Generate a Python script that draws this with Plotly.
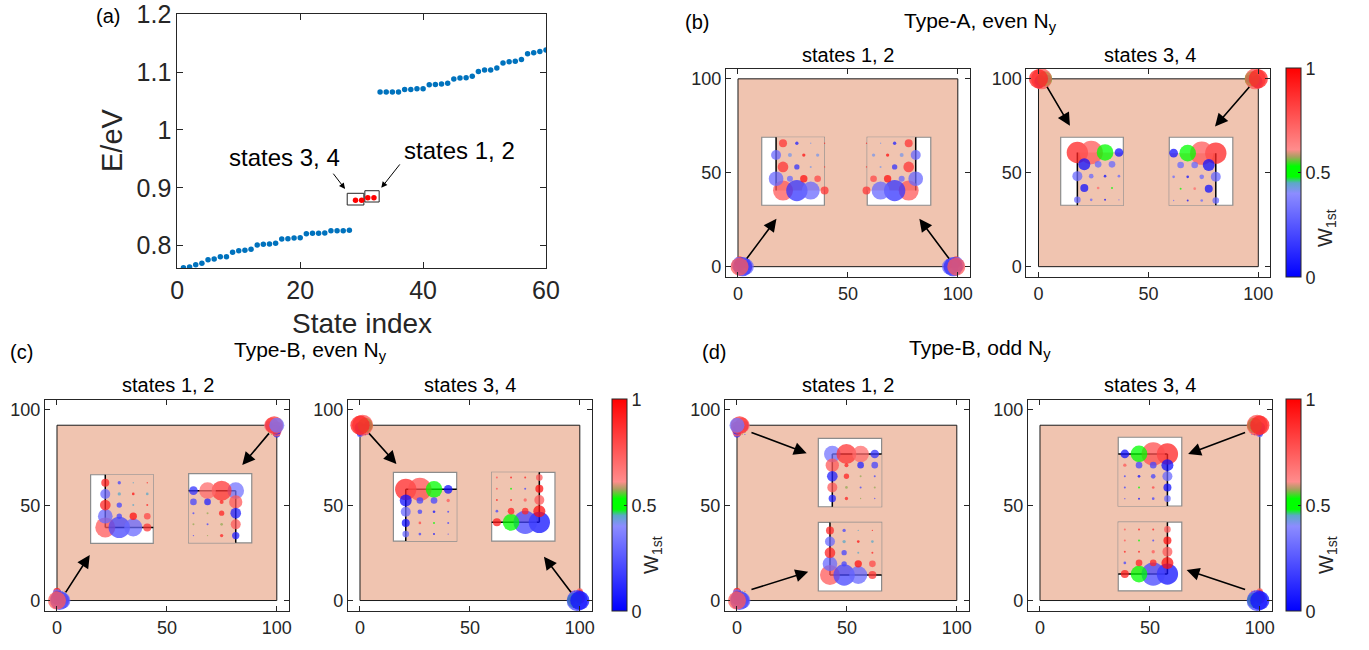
import plotly.graph_objects as go

FIG_W, FIG_H = 1369, 650
FONT = "Liberation Sans, Arial, Helvetica, sans-serif"
INK = "#262626"
SALMON = "#F0C4B0"
W_SCALE = [[0.0, "#0000FF"], [0.40, "#8C8CFF"], [0.45, "#5CA8C8"], [0.48, "#00FF00"],
           [0.53, "#00FF00"], [0.575, "#A8A060"], [0.61, "#FF8C8C"], [1.0, "#FF0000"]]

# ---------------- (a) energy spectrum ----------------
low_idx = list(range(1, 29))
low_E = [0.7621, 0.7632, 0.7672, 0.7695, 0.7759, 0.7770, 0.7811, 0.7811, 0.7885, 0.7914,
         0.7920, 0.7937, 0.8012, 0.8024, 0.8029, 0.8041, 0.8116, 0.8121, 0.8133, 0.8139,
         0.8208, 0.8214, 0.8214, 0.8219, 0.8260, 0.8260, 0.8260, 0.8265]
high_idx = list(range(33, 61))
high_E = [1.0654, 1.0654, 1.0654, 1.0654, 1.0700, 1.0700, 1.0712, 1.0712, 1.0781, 1.0786,
          1.0792, 1.0804, 1.0879, 1.0896, 1.0902, 1.0925, 1.1011, 1.1034, 1.1034, 1.1069,
          1.1155, 1.1178, 1.1184, 1.1218, 1.1316, 1.1333, 1.1356, 1.1379]
c34_idx = [29, 30]
c34_E = [0.8783, 0.8783]
c12_idx = [31, 32]
c12_E = [0.8829, 0.8829]

# ---------------- corner-state site data ----------------
# rows run from the lattice edge row inward, sites from the edge column inward
# Type-A (staggered rows): SHIFT gives the first half-step index of each row
A12_AMP = [[30, 32, 27, 12], [22, 9, 11, 10], [16, 8, 3, 2], [15, 6, 5, 5], [12, 5, 2, 2]]
A12_W = [[0.75, 0.15, 0.30, 0.85], [0.30, 0.30, 0.95, 0.80], [0.85, 0.15, 0.42, 0.90],
         [0.30, 0.42, 0.95, 0.42], [0.85, 0.10, 0.42, 0.90]]
A12_SHIFT = [1, 0, 1, 0, 1]
A34_AMP = [[32, 35, 25, 13], [18, 10, 10, 0], [15, 7, 4, 4], [12, 4, 3, 0], [10, 4, 3, 2]]
A34_W = [[0.90, 0.75, 0.50, 0.05], [0.05, 0.30, 0.30, 0.0], [0.30, 0.30, 0.05, 0.30],
         [0.05, 0.70, 0.50, 0.0], [0.30, 0.30, 0.05, 0.30]]
A34_SHIFT = [0, 1, 0, 1, 0]

# Type-B (square lattice)
B12P_AMP = [[30, 32, 27, 12], [22, 8, 11, 10], [16, 8, 3, 3], [15, 5, 4, 4], [12, 5, 2, 2]]
B12P_W = [[0.75, 0.20, 0.30, 0.85], [0.30, 0.20, 0.95, 0.80], [0.90, 0.20, 0.45, 0.90],
          [0.30, 0.45, 0.95, 0.45], [0.90, 0.20, 0.45, 0.90]]
B12Q_AMP = [[25, 30, 25, 13], [20, 6, 10, 10], [16, 8, 3, 3], [15, 4, 3, 3], [11, 5, 2, 2]]
B12Q_W = [[0.33, 0.85, 0.70, 0.15], [0.75, 0.90, 0.10, 0.20], [0.10, 0.90, 0.57, 0.20],
          [0.75, 0.57, 0.20, 0.57], [0.10, 0.90, 0.57, 0.20]]
B34P_AMP = [[32, 35, 25, 13], [18, 10, 10, 5], [15, 7, 4, 3], [12, 4, 3, 3], [10, 4, 3, 2]]
B34P_W = [[0.90, 0.78, 0.50, 0.05], [0.05, 0.20, 0.20, 0.75], [0.30, 0.20, 0.05, 0.20],
          [0.05, 0.80, 0.50, 0.20], [0.30, 0.20, 0.05, 0.20]]
B34Q_AMP = [[32, 35, 25, 12], [18, 10, 10, 4], [15, 5, 3, 3], [12, 3, 3, 3], [10, 3, 3, 3]]
B34Q_W = [[0.05, 0.20, 0.50, 0.92], [0.95, 0.90, 0.90, 0.20], [0.75, 0.75, 0.90, 0.90],
          [0.95, 0.20, 0.50, 0.75], [0.75, 0.90, 0.90, 0.75]]

PATTERNS = {
    "A12": (A12_AMP, A12_W, A12_SHIFT),
    "A34": (A34_AMP, A34_W, A34_SHIFT),
    "B12P": (B12P_AMP, B12P_W, None),
    "B12Q": (B12Q_AMP, B12Q_W, None),
    "B34P": (B34P_AMP, B34P_W, None),
    "B34Q": (B34Q_AMP, B34Q_W, None),
}

NY_A, NY_B = 100, 92          # lattice heights (x runs 0..100)
TICKS_XY = [0, 50, 100]


def px(x):
    return x / FIG_W


def py(y):
    return 1 - y / FIG_H


# subplot layout: frame span in pixels, lattice, corner states, insets, arrows
SUBPLOTS = [
    dict(n=2, xs=(725.9, 969.9), ys=(68.5, 277), ny=NY_A,
         corners=[(0, 0, 1, 1, "A12"), (100, 0, -1, 1, "A12")],
         insets=[dict(box=(10.8, 39.3, 32.7, 68.9), c=(0.229, 0.216), d=(1, 1), p="A12"),
                 dict(box=(58.8, 87.7, 32.7, 68.9), c=(0.763, 0.216), d=(-1, 1), p="A12")],
         arrows=[((3.5, 3.5), (17.5, 25.5)), ((96.5, 3.5), (82.5, 25.5))]),
    dict(n=3, xs=(1026.4, 1270.4), ys=(68.5, 277), ny=NY_A,
         corners=[(0, 100, 1, -1, "A34"), (100, 100, -1, -1, "A34")],
         insets=[dict(box=(10.1, 38.6, 32.7, 68.9), c=(0.266, 0.776), d=(1, -1), p="A34"),
                 dict(box=(59.5, 88.4, 32.7, 68.9), c=(0.732, 0.766), d=(-1, -1), p="A34")],
         arrows=[((3.5, 96.5), (14.3, 75.0)), ((96.5, 96.5), (80.3, 74.6))]),
    dict(n=4, xs=(44.9, 288.9), ys=(399.5, 611), ny=NY_B,
         corners=[(0, 0, 1, 1, "B12P"), (100, NY_B, -1, -1, "B12Q")],
         insets=[dict(box=(15.3, 43.8, 30.0, 66.0), c=(0.234, 0.233), d=(1, 1), p="B12P"),
                 dict(box=(59.9, 88.6, 30.3, 66.6), c=(0.746, 0.754), d=(-1, -1), p="B12Q")],
         arrows=[((3.5, 3.5), (14.9, 23.9)), ((97, 88.5), (84.3, 71.1))]),
    dict(n=5, xs=(347.9, 591.9), ys=(399.5, 611), ny=NY_B,
         corners=[(0, NY_B, 1, -1, "B34P"), (100, 0, -1, 1, "B34Q")],
         insets=[dict(box=(15.2, 44.0, 31.2, 67.3), c=(0.195, 0.752), d=(1, -1), p="B34P"),
                 dict(box=(59.9, 88.7, 31.2, 67.3), c=(0.753, 0.272), d=(-1, 1), p="B34Q")],
         arrows=[((3.5, 88.5), (16.6, 71.7)), ((96.5, 3.5), (83.7, 23.0))]),
    dict(n=6, xs=(724.9, 968.9), ys=(399.5, 611), ny=NY_B,
         corners=[(0, NY_B, 1, -1, "B12Q"), (0, 0, 1, 1, "B12P")],
         insets=[dict(box=(37.0, 65.8, 49.2, 85.1), c=(0.221, 0.771), d=(1, -1), p="B12Q"),
                 dict(box=(37.0, 65.8, 5.0, 41.0), c=(0.184, 0.233), d=(1, 1), p="B12P")],
         arrows=[((5.9, 88.5), (31.7, 77.3)), ((5.9, 5.5), (32.4, 15.1))]),
    dict(n=7, xs=(1027.9, 1271.9), ys=(399.5, 611), ny=NY_B,
         corners=[(100, NY_B, -1, -1, "B34P"), (100, 0, -1, 1, "B34Q")],
         insets=[dict(box=(35.6, 64.5, 49.6, 85.7), c=(0.774, 0.757), d=(-1, -1), p="B34P"),
                 dict(box=(35.6, 64.5, 5.1, 41.1), c=(0.774, 0.244), d=(-1, 1), p="B34Q")],
         arrows=[((94, 88.5), (67.4, 76.9)), ((94, 5.5), (66.7, 16.0))]),
]

COLORBARS = {3: (1286, 68.5, 277), 5: (612, 399.5, 611), 7: (1286, 399.5, 611)}


def sites(pattern, origin, direction, step):
    amp, w, shift = PATTERNS[pattern]
    ox, oy = origin
    sx, sy = direction
    hx, hy = step
    xs, ys, ss, cs = [], [], [], []
    for m, (arow, wrow) in enumerate(zip(amp, w)):
        for j, (a, c) in enumerate(zip(arow, wrow)):
            if a <= 0:
                continue
            k = shift[m] + 2 * j if shift else j
            xs.append(ox + sx * k * hx)
            ys.append(oy + sy * m * hy)
            ss.append(a)
            cs.append(c)
    return xs, ys, ss, cs


def label(text, x, y, size, color="black", angle=0):
    return dict(x=px(x), y=py(y), xref="paper", yref="paper", text=text, showarrow=False,
                xanchor="center", yanchor="middle", textangle=angle,
                font=dict(size=size, color=color, family=FONT))


fig = go.Figure()
shapes, annotations = [], []
layout_axes = {}

# ---------------- panel (a) ----------------
fig.add_trace(go.Scatter(x=low_idx, y=low_E, mode="markers", marker=dict(size=5.5, color="#0072BD"),
                         xaxis="x", yaxis="y"))
fig.add_trace(go.Scatter(x=high_idx, y=high_E, mode="markers", marker=dict(size=5.5, color="#0072BD"),
                         xaxis="x", yaxis="y"))
fig.add_trace(go.Scatter(x=c34_idx + c12_idx, y=c34_E + c12_E, mode="markers",
                         marker=dict(size=5.5, color="#FF0000"), xaxis="x", yaxis="y"))
layout_axes["xaxis"] = dict(domain=[px(177.3), px(546)], range=[0, 60], tickvals=[0, 20, 40, 60],
                            anchor="y")
layout_axes["yaxis"] = dict(domain=[py(268), py(14)], range=[0.7615, 1.2002],
                            tickvals=[0.8, 0.9, 1.0, 1.1, 1.2],
                            ticktext=["0.8", "0.9", "1", "1.1", "1.2"], anchor="x")
for ax in ("xaxis", "yaxis"):
    layout_axes[ax].update(showline=True, mirror="ticks", linecolor=INK, linewidth=1, ticks="inside",
                           ticklen=6, tickcolor=INK, showgrid=False, zeroline=False,
                           automargin=False, ticklabeloverflow="allow",
                           tickfont=dict(size=25, color=INK, family=FONT))
for x0, x1, y0, y1 in [(27.65, 30.36, 0.8703, 0.8905), (30.52, 32.85, 0.8755, 0.8950)]:
    shapes.append(dict(type="rect", xref="x", yref="y", x0=x0, x1=x1, y0=y0, y1=y1,
                       line=dict(color=INK, width=1), layer="below"))
annotations += [
    dict(x=17.5, y=0.9515, xref="x", yref="y", text="states 3, 4", showarrow=False,
         xanchor="center", yanchor="middle", font=dict(size=24, color="black", family=FONT)),
    dict(x=46.0, y=0.965, xref="x", yref="y", text="states 1, 2", showarrow=False,
         xanchor="center", yanchor="middle", font=dict(size=24, color="black", family=FONT)),
    dict(x=27.3, y=0.898, ax=25.2, ay=0.927, xref="x", yref="y", axref="x", ayref="y", text="",
         showarrow=True, arrowhead=2, arrowsize=1.2, arrowwidth=1, arrowcolor="black"),
    dict(x=33.2, y=0.900, ax=36.4, ay=0.943, xref="x", yref="y", axref="x", ayref="y", text="",
         showarrow=True, arrowhead=2, arrowsize=1.2, arrowwidth=1, arrowcolor="black"),
    label("State index", 362, 323, 28, INK),
    label("E/eV", 112, 140, 29, INK, -90),
]

# ---------------- corner-state panels ----------------
for sp in SUBPLOTS:
    n = sp["n"]
    xr, yr = f"x{n}", f"y{n}"
    layout_axes[f"xaxis{n}"] = dict(domain=[px(sp["xs"][0]), px(sp["xs"][1])], range=[-5.5, 105.5],
                                    anchor=yr)
    layout_axes[f"yaxis{n}"] = dict(domain=[py(sp["ys"][1]), py(sp["ys"][0])], range=[-5.5, 105.5],
                                    anchor=xr)
    for ax in (f"xaxis{n}", f"yaxis{n}"):
        layout_axes[ax].update(tickvals=TICKS_XY, showline=True, mirror="ticks", linecolor=INK,
                               linewidth=1, ticks="inside", ticklen=5, tickcolor=INK, showgrid=False,
                               zeroline=False, automargin=False,
                               tickfont=dict(size=18, color=INK, family=FONT))

    # lattice body
    shapes.append(dict(type="rect", xref=xr, yref=yr, x0=0, x1=100, y0=0, y1=sp["ny"],
                       fillcolor=SALMON, line=dict(color="#1a1a1a", width=1), layer="below"))

    # localized corner states on the full lattice (edge sites drawn last, on top)
    for cx, cy, sx, sy, pat in sp["corners"]:
        step = (0.7, 0.9) if pat.startswith("A") else (1.2, 1.2)
        xs, ys, ss, cs = sites(pat, (cx, cy), (sx, sy), step)
        fig.add_trace(go.Scatter(x=xs[::-1], y=ys[::-1], mode="markers", xaxis=xr, yaxis=yr,
                                 marker=dict(size=[s * 0.6 for s in ss[::-1]], color=cs[::-1],
                                             colorscale=W_SCALE, cmin=0, cmax=1, opacity=0.75,
                                             line=dict(width=0))))

    # zoomed insets around the corners
    for ii, ins in enumerate(sp["insets"]):
        bx0, bx1, by0, by1 = ins["box"]
        bw, bh = bx1 - bx0, by1 - by0
        uc, vc = ins["c"]
        sx, sy = ins["d"]
        ox, oy = bx0 + uc * bw, by0 + vc * bh
        type_a = ins["p"].startswith("A")
        shapes.append(dict(type="rect", xref=xr, yref=yr, x0=bx0, x1=bx1, y0=by0, y1=by1,
                           fillcolor="white", line=dict(color="#8c8c8c", width=1.2), layer="below"))
        ex = bx1 if sx > 0 else bx0
        ey = by1 if sy > 0 else by0
        shapes.append(dict(type="rect", xref=xr, yref=yr, x0=ox, x1=ex, y0=oy, y1=ey,
                           fillcolor=SALMON, line=dict(width=0), layer="below"))
        shapes.append(dict(type="line", xref=xr, yref=yr, x0=ox, x1=ox, y0=oy, y1=ey,
                           line=dict(color="black", width=1.5), layer="below"))
        if not type_a:
            shapes.append(dict(type="line", xref=xr, yref=yr, x0=ox, x1=ex, y0=oy, y1=oy,
                               line=dict(color="black", width=1.5), layer="below"))
        step = (0.1106 * bw, 0.174 * bh) if type_a else (0.2234 * bw, 0.1626 * bh)
        xs, ys, ss, cs = sites(ins["p"], (ox, oy), (sx, sy), step)
        mk = dict(size=[s * 2 / 3 for s in ss], color=cs, colorscale=W_SCALE, cmin=0, cmax=1,
                  opacity=0.75, line=dict(width=0))
        if n in COLORBARS and ii == 0:
            cbx, cby0, cby1 = COLORBARS[n]
            mk.update(showscale=True, colorbar=dict(
                x=px(cbx), xanchor="left", xpad=0, ypad=0, y=py((cby0 + cby1) / 2), yanchor="middle",
                len=(cby1 - cby0) / FIG_H, lenmode="fraction", thickness=15, thicknessmode="pixels",
                outlinewidth=1, outlinecolor=INK, tickvals=[0, 0.5, 1], ticktext=["0", "0.5", "1"],
                ticks="inside", ticklen=3, tickcolor=INK, tickfont=dict(size=18, color=INK, family=FONT)))
        fig.add_trace(go.Scatter(x=xs, y=ys, mode="markers", xaxis=xr, yaxis=yr, marker=mk))

    for (tx, ty), (hx, hy) in sp["arrows"]:
        annotations.append(dict(x=hx, y=hy, ax=tx, ay=ty, xref=xr, yref=yr, axref=xr, ayref=yr,
                                text="", showarrow=True, arrowhead=2, arrowsize=1.6, arrowwidth=1.6,
                                arrowcolor="black", standoff=0))

# ---------------- titles and labels ----------------
TEXTS = [
    ("(a)", 108, 16, 20), ("(b)", 697, 22, 20), ("(c)", 22, 352, 20), ("(d)", 714, 352, 20),
    ("Type-A, even N<sub>y</sub>", 980, 22, 21),
    ("Type-B, even N<sub>y</sub>", 310, 351, 21),
    ("Type-B, odd N<sub>y</sub>", 980, 349, 21),
    ("states 1, 2", 848, 55, 20), ("states 3, 4", 1150, 55, 20),
    ("states 1, 2", 168, 385, 20), ("states 3, 4", 470, 385, 20),
    ("states 1, 2", 848, 385, 20), ("states 3, 4", 1150, 385, 20),
]
for t, x, y, s in TEXTS:
    annotations.append(label(t, x, y, s))
for x, y in [(1327, 228), (652, 555), (1327, 555)]:
    annotations.append(label("W<sub>1st</sub>", x, y, 20, INK, -90))

fig.update_layout(width=FIG_W, height=FIG_H, margin=dict(l=0, r=0, t=0, b=0, autoexpand=False),
                  showlegend=False, paper_bgcolor="white", plot_bgcolor="white",
                  font=dict(family=FONT, color=INK),
                  shapes=shapes, annotations=annotations, **layout_axes)
fig.write_html("out.html")
